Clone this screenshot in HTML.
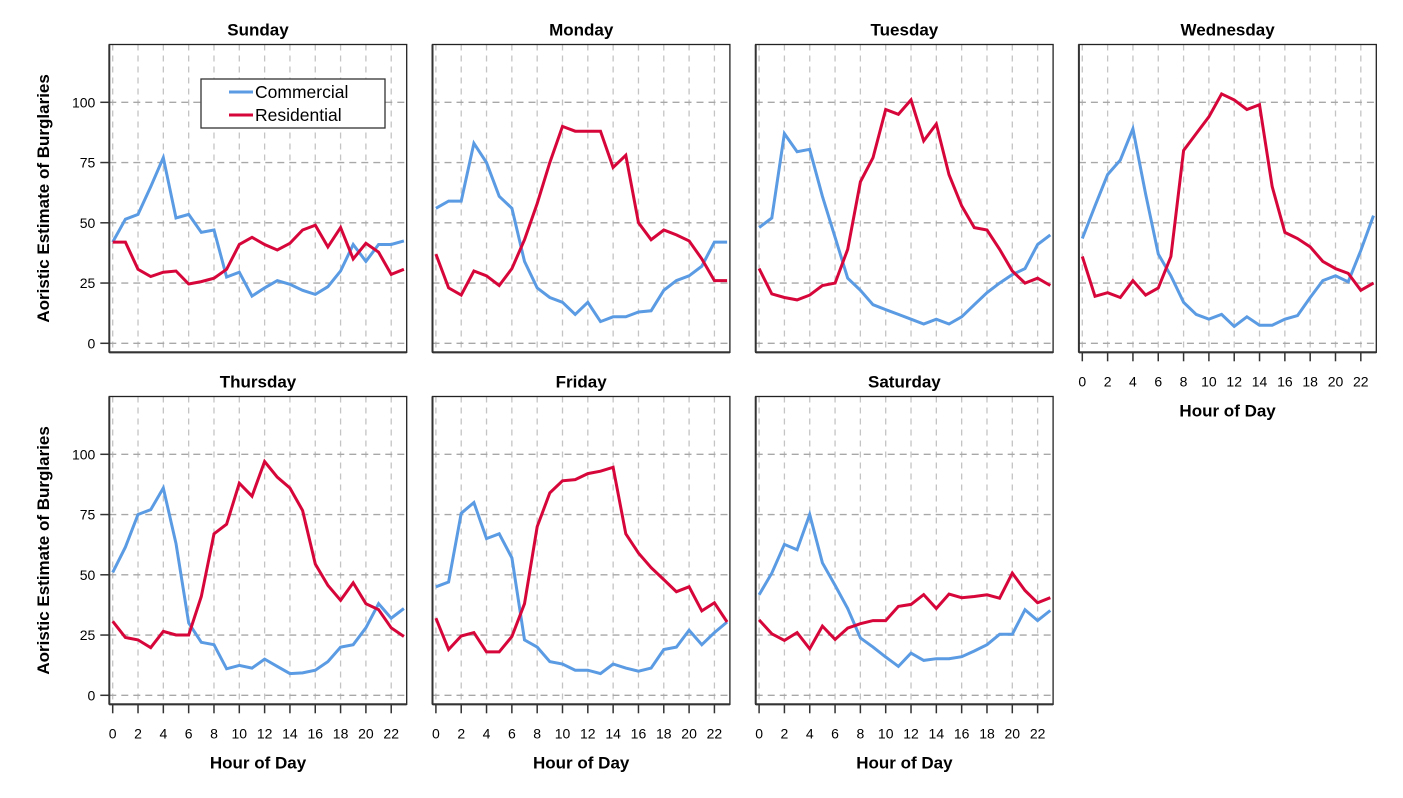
<!DOCTYPE html>
<html><head><meta charset="utf-8">
<style>
html,body{margin:0;padding:0;background:#fff;}
svg{display:block;font-family:"Liberation Sans",Arial,sans-serif;}
</style></head>
<body>
<svg id="chart" width="1403" height="798" viewBox="0 0 1403 798" xmlns="http://www.w3.org/2000/svg"></svg>
<script>
const days = ["Sunday","Monday","Tuesday","Wednesday","Thursday","Friday","Saturday"];
const hours = [0,1,2,3,4,5,6,7,8,9,10,11,12,13,14,15,16,17,18,19,20,21,22,23];
const yTicks = [0,25,50,75,100];
const xTickLabels = [0,2,4,6,8,10,12,14,16,18,20,22];
const commercialSun = [42,51.5,53.5,65,77,52,53.5,46,47,27.5,29.5,19.6,23,26,24.5,22,20.3,23.5,30,41,34,41,41,42.5];
const residentialSun = [42,42,30.7,27.7,29.5,30,24.6,25.6,27,30.7,41,44,41,38.7,41.5,47,49,40,48,35,41.5,37.8,28.6,30.7];
const commercialMon = [56,59,59,83,75,61,56,34,23,19,17,12,17,9,11,11,13,13.5,22,26,28,32,42,42];
const residentialMon = [37,23,20,30,28,24,31,43,58,75,90,88,88,88,73,78,50,43,47,45,42.5,35,26,26];
const commercialTue = [48,52,87,79.5,80.5,61,44,27,22,16,14,12,10,8,10,8,11,16,21,25,28.5,31,41,45];
const residentialTue = [31,20.5,19,18,20,24,25,39,67,77,97,95,101,84,91,70,57,48,47,39,30,25,27,24];
const commercialWed = [43.5,57,70,76,89,62,37,28,17,12,10,12,7,11,7.5,7.5,10,11.5,19,26,28,25.5,38.5,53];
const residentialWed = [36,19.5,21,19,26,20,23,36,80,87,94,103.5,101,97,99,65,46,43.5,40,34,31,29,22,25];
const commercialThu = [51,61.5,75,77,86,63,30,22,21,11,12.4,11.3,15,12,9,9.3,10.4,14,20,21,28,38,32,36];
const residentialThu = [30.7,24,23,19.8,26.5,25,25,41,67,71,88,82.6,97,90.5,86,76.7,54.5,45.6,39.4,46.7,38,35.5,28,24.4];
const commercialFri = [45,47,75.5,80,65,67,57,23,20,14,13,10.4,10.4,9,13,11.3,10,11.3,19,20,27,21,26,30.4];
const residentialFri = [32,19,24.6,26,18,18,24.4,38,70,84,89,89.5,92,93,94.6,67,59,53,48,43,45,35,38.4,30.4];
const commercialSat = [41.7,50.7,62.6,60.4,75,55,45.6,36,23.8,20,15.9,12,17.5,14.5,15.2,15.2,16,18.4,21,25.3,25.3,35.5,31,35.2];
const residentialSat = [31.3,25.5,22.8,26,19.3,28.7,23.2,27.9,29.7,31,31,36.9,37.7,41.8,36,42,40.5,41,41.7,40.3,50.7,43.5,38.4,40.5];
const commercial = [commercialSun,commercialMon,commercialTue,commercialWed,commercialThu,commercialFri,commercialSat];
const residential = [residentialSun,residentialMon,residentialTue,residentialWed,residentialThu,residentialFri,residentialSat];

const NS="http://www.w3.org/2000/svg";
const svg=document.getElementById('chart');
function mk(tag,attrs,parent){const e=document.createElementNS(NS,tag);for(const k in attrs)e.setAttribute(k,attrs[k]);(parent||svg).appendChild(e);return e;}
const BLUE="#5A9BE3", RED="#D7063A";

days.forEach((day,i)=>{
  const col=i<4?i:i-4, row=i<4?0:1;
  const left=109.3+col*323.2, top=44.5+row*352, right=left+297.4, bottom=352.3+row*352;
  const x0=left+3.4, xs=12.66;
  const y0=343.3+row*352, ys=2.41;
  const xScale=h=>x0+h*xs;
  const yScale=v=>y0-v*ys;
  const g=mk('g',{});
  
  
  xTickLabels.forEach(h=>{const l=mk('line',{x1:xScale(h),x2:xScale(h),y1:top,y2:bottom,stroke:'#c4c4c4','stroke-width':1.3,'stroke-dasharray':'6,5'},g);
    });
  yTicks.forEach(v=>{const l=mk('line',{x1:left,x2:right,y1:yScale(v),y2:yScale(v),stroke:'#a8a8a8','stroke-width':1.3,'stroke-dasharray':'7,5'},g);
    });
  const mkLine=(arr,color,name)=>{const p=mk('polyline',{points:arr.map((v,h)=>xScale(hours[h]).toFixed(1)+','+yScale(v).toFixed(1)).join(' '),fill:'none',stroke:color,'stroke-width':3,'stroke-linejoin':'miter'},g);
    };
  mkLine(commercial[i],BLUE,'commercial');
  mkLine(residential[i],RED,'residential');
  const f=mk('rect',{x:left,y:top,width:right-left,height:bottom-top,fill:'none',stroke:'#222','stroke-width':1.3},g);
  
  mk('line',{x1:left,x2:right,y1:bottom,y2:bottom,stroke:'#333','stroke-width':2.2},g);
  mk('line',{x1:left,x2:left,y1:top,y2:bottom,stroke:'#333','stroke-width':2},g);
  const t=mk('text',{x:(left+right)/2,y:top-9,'text-anchor':'middle','font-size':17,'font-weight':'bold',fill:'#000'},g);
  t.textContent=day;
  
  if(col===0){
    yTicks.forEach(v=>{mk('line',{x1:left-9,x2:left,y1:yScale(v),y2:yScale(v),stroke:'#333','stroke-width':1.5},g);
      const tl=mk('text',{x:left-14,y:yScale(v)+5,'text-anchor':'end','font-size':14,fill:'#000'},g);tl.textContent=v;
      });
    const yt=mk('text',{x:0,y:0,transform:`translate(49,${(top+bottom)/2}) rotate(-90)`,'text-anchor':'middle','font-size':17,'font-weight':'bold',fill:'#000'},g);
    yt.textContent='Aoristic Estimate of Burglaries';
    
  }
  if(row===1||i===3){
    xTickLabels.forEach(h=>{mk('line',{x1:xScale(h),x2:xScale(h),y1:bottom,y2:bottom+9,stroke:'#333','stroke-width':1.5},g);
      const tl=mk('text',{x:xScale(h),y:bottom+34,'text-anchor':'middle','font-size':14,fill:'#000'},g);tl.textContent=h;
      });
    const xt=mk('text',{x:(left+right)/2,y:bottom+64,'text-anchor':'middle','font-size':17,'font-weight':'bold',fill:'#000'},g);
    xt.textContent='Hour of Day';
    
  }
});
const lg=mk('g',{});


mk('rect',{x:201,y:79,width:184,height:49,fill:'#fff',stroke:'#333','stroke-width':1.3},lg);
mk('line',{x1:229,x2:253,y1:92,y2:92,stroke:BLUE,'stroke-width':3},lg);
mk('line',{x1:229,x2:253,y1:115,y2:115,stroke:RED,'stroke-width':3},lg);
const l1=mk('text',{x:255,y:98,'font-size':17.5,fill:'#000'},lg);l1.textContent='Commercial';

const l2=mk('text',{x:255,y:121,'font-size':17.5,fill:'#000'},lg);l2.textContent='Residential';

</script>
</body></html>
